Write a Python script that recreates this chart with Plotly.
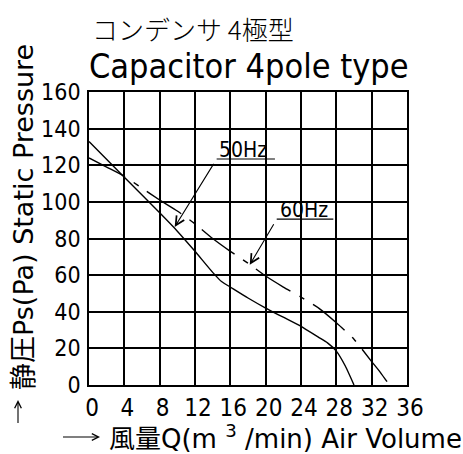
import plotly.graph_objects as go

# 50Hz (solid) and 60Hz (dashed) curves: Air volume (m3/min) vs static pressure (Pa)
q_50 = [0, 4, 8, 10, 12, 14, 15, 16, 18, 20, 22, 24, 26, 27, 28, 29, 30]
p_50 = [133, 113.5, 94, 84, 73, 61.5, 56.5, 53.5, 47.5, 42, 37, 32, 26, 23, 18.5, 10.5, 0]
q_60 = [0, 2, 4, 6, 8, 10, 12, 14, 16, 18, 20, 22, 24, 26, 28, 30, 32, 33, 34]
p_60 = [124, 119, 114, 107.5, 101, 95, 88, 80, 73, 66.5, 59.5, 53.5, 48, 42, 34, 25, 12.8, 6.8, 0]

x_ticks = [0, 4, 8, 12, 16, 20, 24, 28, 32, 36]
x_tick_labels = ["0", "4", "8", "12", "16", "20", "24", "28", "32", "36"]
y_ticks = [0, 20, 40, 60, 80, 100, 120, 140, 160]
y_tick_labels = ["0", "20", "40", "60", "80", "100", "120", "140", "160"]

FONT = "DejaVu Sans Condensed, DejaVu Sans, Noto Sans CJK JP"
WIDE = "DejaVu Sans, Noto Sans CJK JP"

L, R, T, B = 89, 56, 92, 69
PW, PH = 463 - L - R, 454 - T - B


def px(xp):
    return (xp - L) / PW


def py(yp):
    return (454 - B - yp) / PH


fig = go.Figure()
fig.add_trace(go.Scatter(x=q_50, y=p_50, mode="lines", name="50Hz",
                         line=dict(color="black", width=1.4, shape="spline", smoothing=0.5)))
fig.add_trace(go.Scatter(x=q_60, y=p_60, mode="lines", name="60Hz",
                         line=dict(color="black", width=1.4, shape="spline", smoothing=0.5,
                                   dash="41px,10px,6px,10px")))

ann = []
# frequency labels
ann.append(dict(x=14.45, y=123.4, xref="x", yref="y", text="50Hz", showarrow=False,
                xanchor="left", yanchor="bottom", yshift=-5,
                font=dict(family=FONT, size=21, color="black")))
ann.append(dict(x=21.4, y=90.6, xref="x", yref="y", text="60Hz", showarrow=False,
                xanchor="left", yanchor="bottom", yshift=-5,
                font=dict(family=FONT, size=21, color="black")))
ann.append(dict(x=9.7, y=86.3, xref="x", yref="y", ax=14.45, ay=123.4, axref="x", ayref="y",
                text=" ", showarrow=True, arrowhead=5, arrowsize=1.6, arrowwidth=1.1,
                arrowcolor="black", standoff=0, startstandoff=0))
ann.append(dict(x=18.2, y=65.6, xref="x", yref="y", ax=21.25, ay=90.6, axref="x", ayref="y",
                text=" ", showarrow=True, arrowhead=5, arrowsize=1.6, arrowwidth=1.1,
                arrowcolor="black", standoff=0, startstandoff=0))

# titles
ann.append(dict(xref="paper", yref="paper", x=px(90), y=py(49),
                text="コンデンサ 4極型", showarrow=False, xanchor="left", yanchor="bottom",
                font=dict(family="Noto Sans CJK JP", size=26, color="black", weight=300)))
ann.append(dict(xref="paper", yref="paper", x=px(87), y=py(88),
                text="Capacitor 4pole type", showarrow=False, xanchor="left", yanchor="bottom",
                font=dict(family=FONT, size=34, color="black")))
# axis titles
ann.append(dict(xref="paper", yref="paper", x=px(23), y=py(217),
                text="静圧Ps(Pa) Static Pressure", showarrow=False, textangle=-90,
                xanchor="center", yanchor="middle",
                font=dict(family=WIDE, size=27, color="black")))
ann.append(dict(xref="paper", yref="paper", x=px(107), y=py(437),
                text="風量Q(m <sup>3</sup> /min) Air Volume", showarrow=False,
                xanchor="left", yanchor="middle",
                font=dict(family=WIDE, size=26, color="black")))
# axis arrows
ann.append(dict(xref="paper", yref="paper", x=px(18), y=py(400),
                ax=0, ay=33, text=" ", showarrow=True, arrowhead=5, arrowsize=1.2,
                arrowwidth=1.1, arrowcolor="black", standoff=0))
ann.append(dict(xref="paper", yref="paper", x=px(100), y=py(437),
                ax=-40, ay=0, text=" ", showarrow=True, arrowhead=5, arrowsize=1.2,
                arrowwidth=1.1, arrowcolor="black", standoff=0))

shapes = [
    dict(type="line", xref="x", yref="y", x0=14.45, x1=21.05, y0=123.4, y1=123.4,
         line=dict(color="black", width=1.1)),
    dict(type="line", xref="x", yref="y", x0=21.25, x1=27.66, y0=90.6, y1=90.6,
         line=dict(color="black", width=1.1)),
]

fig.update_layout(
    width=463, height=454,
    margin=dict(l=L, r=R, t=T, b=B, autoexpand=False),
    paper_bgcolor="white", plot_bgcolor="white",
    showlegend=False,
    annotations=ann, shapes=shapes,
    xaxis=dict(range=[0, 36], tickvals=x_ticks, ticktext=x_tick_labels, showgrid=True,
               gridcolor="black", gridwidth=1.6, zeroline=False, showline=True,
               linecolor="black", linewidth=1.6, mirror=True, ticks="", automargin=False,
               ticklabelshift=3, ticklabelstandoff=0,
               tickfont=dict(family=FONT, size=24, color="black")),
    yaxis=dict(range=[0, 160], tickvals=y_ticks, ticktext=y_tick_labels, showgrid=True,
               gridcolor="black", gridwidth=1.6, zeroline=False, showline=True,
               linecolor="black", linewidth=1.6, mirror=True, ticks="", automargin=False,
               ticklabelstandoff=2,
               tickfont=dict(family=FONT, size=23, color="black")),
)

fig.write_html("out.html", config={"displayModeBar": False},
               post_script="document.body.style.margin='0';")
